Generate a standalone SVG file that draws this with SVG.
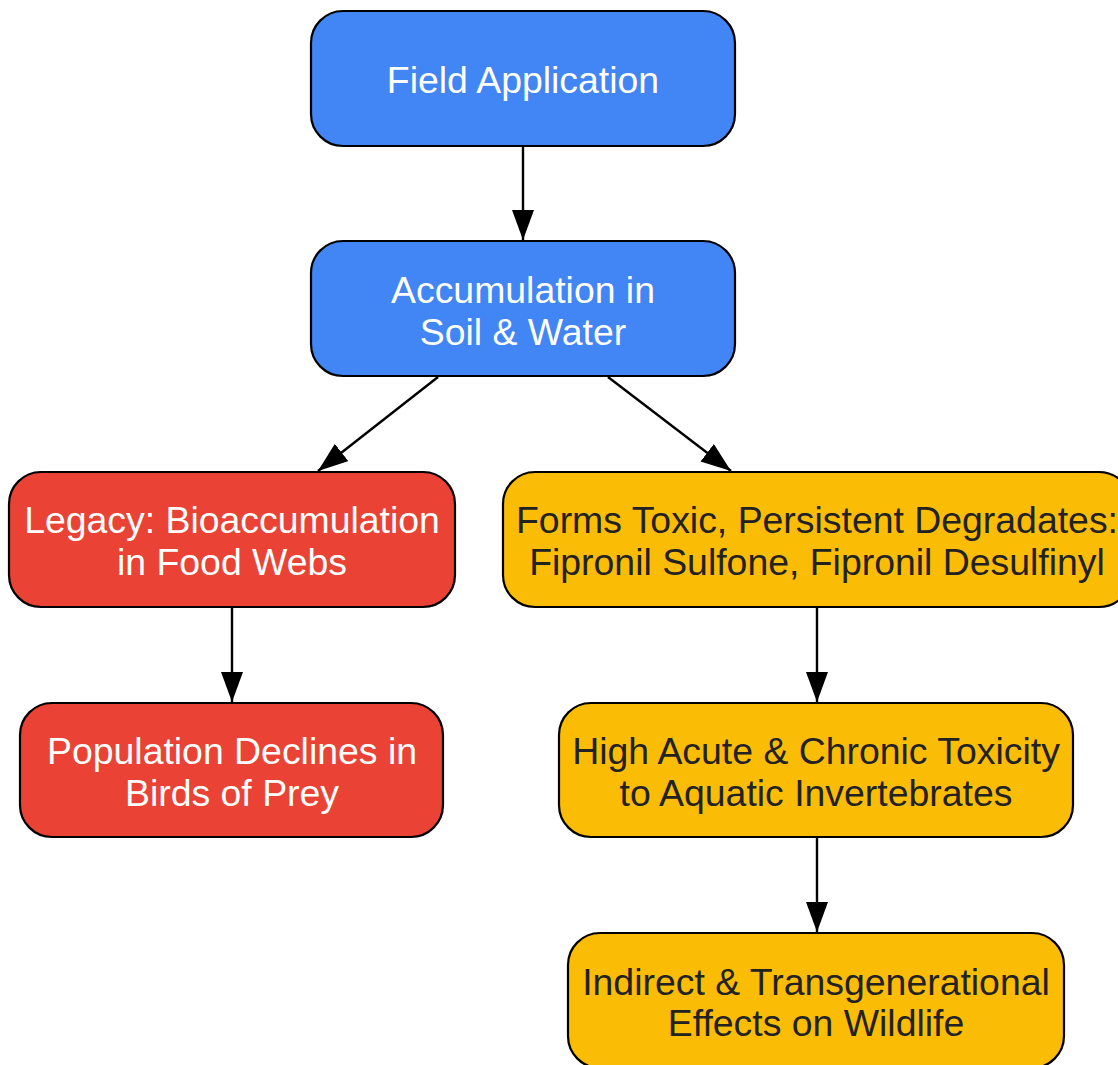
<svg xmlns="http://www.w3.org/2000/svg" width="1118" height="1065" viewBox="0 0 1118 1065">
<style>
.n{stroke:#000;stroke-width:2.2}
.b{fill:#4285F4}.r{fill:#EA4335}.y{fill:#FBBC05}
text{font-family:"Liberation Sans",Arial,sans-serif;font-size:37.4px;text-anchor:middle}
.w{fill:#fff}.d{fill:#222}
.e{stroke:#000;stroke-width:2.4;fill:none}
</style>
<defs>
<marker id="ah" viewBox="0 0 30 22" refX="30" refY="11" markerWidth="30" markerHeight="22" markerUnits="userSpaceOnUse" orient="auto">
<path d="M0,0 L30,11 L0,22 Z" fill="#000"/>
</marker>
</defs>
<rect width="1118" height="1065" fill="#fff"/>
<g id="connectors">
<line class="e" x1="523" y1="147" x2="523" y2="240" marker-end="url(#ah)"/>
<line class="e" x1="438" y1="377" x2="318" y2="471" marker-end="url(#ah)"/>
<line class="e" x1="608" y1="377" x2="731" y2="471" marker-end="url(#ah)"/>
<line class="e" x1="232" y1="608" x2="232" y2="702" marker-end="url(#ah)"/>
<line class="e" x1="817" y1="608" x2="817" y2="702" marker-end="url(#ah)"/>
<line class="e" x1="817" y1="838" x2="817" y2="932" marker-end="url(#ah)"/>
</g>
<g id="n1"><rect class="n b" x="311" y="11" width="424" height="135" rx="32"/><text class="w" x="523" y="93">Field Application</text></g>
<g id="n2"><rect class="n b" x="311" y="241" width="424" height="135" rx="32"/><text class="w" x="523" y="303">Accumulation in</text><text class="w" x="523" y="345">Soil &amp; Water</text></g>
<g id="n3"><rect class="n r" x="9" y="472" width="446" height="135" rx="32"/><text class="w" x="232" y="533">Legacy: Bioaccumulation</text><text class="w" x="232" y="575">in Food Webs</text></g>
<g id="n4"><rect class="n y" x="503" y="472" width="628" height="135" rx="32"/><text class="d" x="817" y="533">Forms Toxic, Persistent Degradates:</text><text class="d" x="817" y="575">Fipronil Sulfone, Fipronil Desulfinyl</text></g>
<g id="n5"><rect class="n r" x="20" y="703" width="423" height="134" rx="32"/><text class="w" x="232" y="764">Population Declines in</text><text class="w" x="232" y="806">Birds of Prey</text></g>
<g id="n6"><rect class="n y" x="559" y="703" width="514" height="134" rx="32"/><text class="d" x="816" y="764">High Acute &amp; Chronic Toxicity</text><text class="d" x="816" y="806">to Aquatic Invertebrates</text></g>
<g id="n7"><rect class="n y" x="568" y="933" width="496" height="135" rx="32"/><text class="d" x="816" y="995">Indirect &amp; Transgenerational</text><text class="d" x="816" y="1036">Effects on Wildlife</text></g>
</svg>
